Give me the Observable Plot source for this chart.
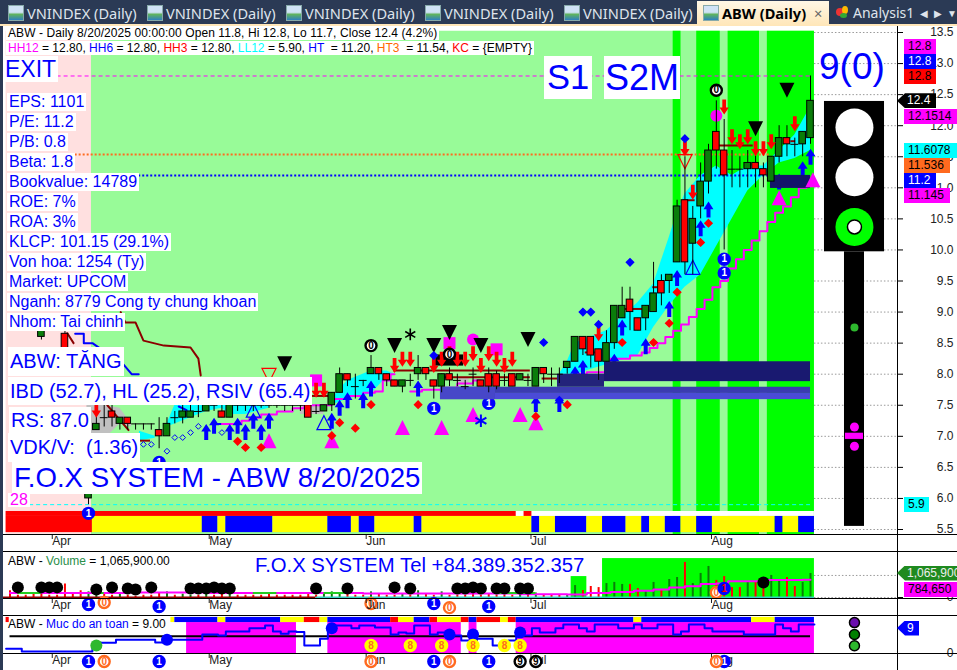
<!DOCTYPE html>
<html><head><meta charset="utf-8">
<script src="https://cdn.jsdelivr.net/npm/d3@7"></script>
<script src="https://cdn.jsdelivr.net/npm/@observablehq/plot@0.6"></script>
<style>
html,body{margin:0;padding:0;background:#fff;overflow:hidden}
#page{position:relative;width:957px;height:670px;overflow:hidden;font-family:"Liberation Sans",Arial,sans-serif;background:#fff}
#page svg{position:absolute;left:0}
.lb{position:absolute;white-space:pre;background:#fff;color:#00f;line-height:1}
.tag{position:absolute;white-space:pre;font-size:12px;line-height:15px;height:15px;padding-left:4px;box-sizing:border-box;overflow:hidden}
.tab{position:absolute;top:4px;color:#dfe4ec;font:14.6px "Noto Sans",sans-serif;white-space:pre;line-height:18px}
.ic{position:absolute;top:5px;width:14px;height:14px;background:linear-gradient(180deg,#cfe2f5 0 45%,#5fb35f 60%,#2f7fbf);border:1px solid #8aa}
.ln{position:absolute;background:#000}
</style></head><body><div id="page"></div>
<script>
// ---------- bar data (k = trading-bar number, 0 = first bar right of the pink zone)
const opens=[6,7.1,7.3,7.4,7.2,7.3,7.2,7.2,7.2,7.1,7,7.3,7.3,7.3,7.4,7.4,7.5,7.4,7.3,7.5,7.5,7.5,7.5,7.5,7.5,7.5,7.5,7.5,7.5,7.4,7.4,7.5,7.7,8,7.8,7.9,8,8.1,8,7.9,7.8,7.9,8,8.1,7.9,7.8,8,7.9,7.8,8,7.9,8,8,7.9,8,7.9,7.9,7.8,8.1,8,8,8.1,8.2,8.6,8.6,8.4,8.2,8.5,8.9,9.2,8.9,8.9,9,9.5,9.5,9.8,10.8,10.1,10.7,11.1,11.9,11.6,11.3,11.3,11.3,11.4,11.3,11.1,11.5,11.8,11.7,11.7,11.8];
const highs=[6.1,7.5,7.5,7.5,7.3,7.3,7.2,7.2,7.2,7.3,7.3,7.4,7.5,7.5,7.55,7.6,7.6,7.55,7.55,7.6,7.6,7.6,7.6,7.6,7.55,7.6,7.6,7.6,7.6,7.5,7.5,7.7,8.1,8,8,7.9,8.3,8.1,8,7.9,7.9,8,8.3,8.1,7.9,8,8.1,8,7.9,8.1,7.9,8.1,8.05,8,8,8,8,8.1,8.1,8.1,8.1,8.2,8.6,8.6,8.6,8.4,8.7,9.1,9.4,9.4,8.9,9.1,9.8,9.6,9.6,10.8,11.5,10.7,11.4,11.7,12.4,12.1,11.6,11.5,11.6,11.6,11.4,11.5,12,12,11.8,11.9,12.8];
const lows=[5.9,7.1,7.15,7.15,7.1,7.1,7.1,7.1,7.1,6.8,7,7.2,7.2,7.3,7.3,7.4,7.4,7.3,7.3,7.4,7.4,7.4,7.45,7.45,7.45,7.4,7.4,7.4,7.3,7.35,7.4,7.4,7.7,7.8,7.6,7.8,8,7.9,7.8,7.8,7.7,7.8,7.9,7.9,7.6,7.7,7.8,7.8,7.75,7.8,7.8,7.7,7.75,7.8,7.8,7.9,7.8,7.8,7.85,7.8,7.85,8,8.2,8.3,8.1,7.9,8.2,8.4,8.9,8.7,8.7,8.7,9,9.1,9.3,9.8,9.6,9.6,10.5,10.9,11.3,10,11,11,11,11,11,11.1,11.4,11.5,11.5,11.5,11.7];
const closes=[6.1,7.2,7.3,7.3,7.3,7.2,7.2,7.2,7.2,7,7.2,7.3,7.4,7.4,7.4,7.5,7.5,7.3,7.5,7.5,7.5,7.5,7.5,7.5,7.5,7.5,7.5,7.5,7.3,7.4,7.5,7.7,8,7.9,7.8,7.9,8.1,8,7.9,7.8,7.9,7.9,8.1,8,7.8,8,7.9,7.9,7.8,8,7.8,7.8,7.8,7.9,7.8,8,7.9,8.1,8,8,8,8.2,8.6,8.4,8.3,8.2,8.5,9.1,9.1,9,8.7,9.1,9.3,9.3,9.6,10.7,9.8,10.5,11.1,11.6,11.6,11.2,11.3,11.3,11.4,11.3,11.2,11.5,11.8,11.7,11.7,11.9,12.4];
// two bars readable inside the pink zone
const earlyK=[-6,-3], earlyO=[8.6,8.65], earlyH=[8.7,8.8], earlyL=[8.55,8.35], earlyC=[8.7,8.4];

const volumes=[.25,.2,.15,.1,.2,.1,.05,.1,.1,.2,.25,.1,.15,.1,.1,.2,.1,.15,.2,.1,.1,.1,.1,.15,.1,.1,.1,.1,.2,.1,.15,.25,.2,.15,.1,.1,.25,.15,.1,.1,.15,.1,.3,.15,.1,.25,.1,.1,.1,.15,.1,.15,.1,.1,.1,.15,.15,.2,.1,.1,.1,.1,.53,.31,.49,.44,.62,.67,.58,.58,.4,.31,.67,.31,.8,.89,1.56,.62,1.07,1.38,.76,.93,.44,.44,.67,.67,.4,.98,.76,.89,.49,.67,1.0659];
const earlyVolK=[-10,-9,-8,-7,-6,-5,-4,-3,-2,-1], earlyVol=[.3,.1,.1,.15,.2,.1,.1,.6,.2,.3];
const volMaK=[-10,0,10,20,30,40,50,60,62,65,68,71,73,75,77,79,81,82,84,87,90,92];
const volMa=[.2,.2,.22,.2,.2,.18,.18,.15,.13,.2,.25,.3,.36,.44,.5,.6,.62,.72,.72,.78,.78,.7847];
const volGreenK1=[-9,0.5,21,30,52], volGreenK2=[-6,2,24,33,57], volGreenV=.2;
const volDotK=[-9,-6,-5,-4,1,3,5,6,8,13,14,15,16,17,18,29,33,39,41,47,48,49,50,52,53,55,56,86];
const volDotV=[.45,.45,.45,.45,.36,.45,.4,.36,.45,.4,.4,.4,.45,.4,.4,.4,.4,.45,.4,.4,.4,.45,.4,.4,.4,.4,.4,.67];

const months=["Apr","May","Jun","Jul","Aug"], monthK=[-5,15,35,56,79];
const priceTicks=[5.5,6,6.5,7,7.5,8,8.5,9,9.5,10,10.5,11,11.5,12,12.5,13,13.5];

const bandK1=[74.5,77.5,81.5,86.5], bandK2=[75.5,80.5,85.5,92.5];

const stripK=[-10.5,.5,14.5,16.5,17.5,23.5,30.5,33.5,34.5,36.5,41.5,42.5,56.5,57.5,59.5,63.5,65.5,68.5,70.5,71.5,73.5,75.5,77.5,79.5,87.5,88.5,90.5,92.5];
const stripC=["red","y","b","y","b","y","b","y","b","y","b","y","b","y","b","y","b","y","b","y","b","y","b","y","b","y","b"];
const topStripK1=[-10.5,55.5], topStripK2=[54.5,56.5];

const cloudK=[6.5,8.5,null,10,11,13,15,17,18,20,22,23,null,31,33,36,38,39,null,60,61,62,66,70,72,74,75,76,78,80,82,84,86,88,90,92];
const cloudHi=[7.08,7,null,7.2,7.5,7.5,7.5,7.5,7.5,7.5,7.5,7.5,null,7.6,7.9,8.05,8.05,8,null,8,8.2,8.5,8.7,9.15,9.45,10.2,10.6,10.9,11.2,11.35,11.2,11.35,11.35,11.6,11.85,12.3];
const cloudLo=[6.93,6.97,null,7.15,7.2,7.3,7.4,7.45,7.35,7.35,7.42,7.45,null,7.5,7.6,7.68,7.95,8,null,8,8,8,8.15,8.3,8.75,9.1,9.25,9.4,9.6,10.05,10.5,10.95,11.2,11.4,11.47,11.6];
const greyK=[-.2,2,4,5.5,null,27,30,null,47,48.5];
const greyHi=[7.5,7.5,7.45,7.2,null,7.5,7.5,null,7.95,7.95];
const greyLo=[6.9,6.95,7.2,7.15,null,7.35,7.35,null,7.85,7.85];

const stopK=[17,19,20,21,23,25,27,28,30,32,34,36,37,38,39,null,41,44,46,48,50,null,62,65,68,70,71,72,73,74,75,76,77,78,79,80,81,82,83,84,85,86,87,88,89,90,91,92];
const stopP=[7.2,7.2,7.25,7.3,7.35,7.4,7.45,7.5,7.5,7.6,7.65,7.7,7.72,7.9,8,null,7.72,7.75,7.78,7.85,7.9,null,8,8.03,8.25,8.3,8.35,8.42,8.5,8.6,8.7,8.8,8.92,9.05,9.2,9.4,9.5,9.7,9.85,10,10.15,10.3,10.45,10.6,10.7,10.85,11,11.05];
const maroonK=[4.1,4.7,6,7,9.6,13,14,14.3,null,-2.7,-1.9,null,2.4,5.1];
const maroonP=[9,8.83,8.83,8.54,8.46,8.43,8.25,7.98,null,8.66,8.5,null,7.5,7.1];
const resK1=[38.9,45.2,28.3,57.8,63.3,68.2,71.9,80.3,75.8,89.5,6.4];
const resK2=[56.3,56.3,30.8,59.9,64.9,70.7,73.1,84.7,77.3,90.1,7.9];
const resP=[8.06,7.95,7.65,7.93,8.35,9.05,9.4,11.68,10.8,11.75,6.93];
const blueLineK=[-1.7,-.6,-.6,.5,4.5,5.5,6.4,null,11.5,12.5,null,16,17.5];
const blueLineP=[8.65,8.65,8.5,8.5,8.15,8,8,null,7.48,7.42,null,7.2,7.2];

const zoneK1=[44.85,51.86,44.85,51.86,59.76,65.75,86.9], zoneK2=[51.86,92,51.86,92,65.75,92,92];
const zoneP1=[7.59,7.69,7.59,7.59,7.79,7.88,10.99], zoneP2=[7.79,7.79,7.79,7.69,8,8.2,11.2];
const zoneC=["#4747c8","#3b3bb0","#4747c8","#4b4bd6","#23237a","#191970","#14146a"];

const upK=[15,16,18,19,20,21,22,23,31,32,33,35,36,42,57,60,62,63,67,68,71,74,75,78,79,88,91,92];
const upP=[7.07,7.17,7.07,7.17,7.07,7.25,7.07,7.25,7.25,7.46,7.58,7.58,7.77,7.77,7.52,7.52,8,8.1,8.2,8.75,8.45,9.05,9.55,10.35,10.65,11.1,11.3,11.5];
const downK=[1,29,30,39,40,41,44,45,46,47,48,49,50,51,52,53,54,65,76,77,81,82,83,84,85,86,87,90];
const downP=[7.42,7.74,7.74,8.14,8.24,8.24,8.14,8.24,8.33,8.24,8.24,8.33,8.14,8.33,8.24,8.14,8.24,8.65,11.63,10.93,12.3,11.82,11.74,11.82,11.63,11.63,11.74,12.03];
const redDotK=[19,20,22,32,34,31,36,42,57,61,68,72,74,75,78,79];
const redDotP=[6.92,6.82,6.82,7.22,7.13,7.01,7.51,7.51,7.32,7.51,8.51,8.51,8.82,9.32,10.12,10.43];
const blueDotK=[58,44,69,63,64,65,76,60];
const blueDotP=[8.51,8.3,9.8,9,9,8.8,11.79,7.58];
const ringK=[7,8,10,11,12,13,14,17], ringP=[6.87,6.87,6.76,6.98,6.98,7.06,7.16,7.06];
const blackDownK=[25,39,44,46,50,56,85,89], blackDownP=[8.17,8.46,8.46,8.67,8.46,8.56,11.95,12.57];
const pinkUpK=[23,31,40,45,49,55,57,88,92.3], pinkUpP=[6.93,6.93,7.14,7.14,7.35,7.35,7.22,10.84,11.13];
const hollowUpK=[21,30,77], hollowUpP=[7.42,7.22,9.72];
const hollowDownK=[76,23], hollowDownP=[11.42,7.98];
const pinkSquareK=[46,52,29], pinkSquareP=[8.5,8.4,7.9];
const pinkCircleK=[49,80], pinkCircleP=[8.56,12.16];
const oneK=[9,44,51,0,81,81], oneP=[6.58,7.45,7.53,5.76,9.85,9.63];
const zeroK=[36,80,46], zeroP=[8.46,12.57,8.32];

const safety=[1.5,.6,2.5,3.3,4.3,3.4,4.3,5.9,5.6,6.8,7.8,8.7,6.8,6.1,6.8,6.7,2.5,4.6,7.8,8.7,7.8,8.7,8.1,5.9,6.5,6.2,8.7,5.9,6.5,5.6,4,4.6,2.5,4,5.6,7.8,6.5,7.8,9,7.8,6.8,9,7.8,9,7.8,9,5.9,6.8,9,7.8,6.8,5.9,9,7.8,6.8,9,9];
const safetyK=[-10.5,-8.5,.5,1.5,3.5,8.5,9.5,14.5,16.5,17.5,20.5,22.5,23.5,24.5,25.5,26.5,27.5,29.5,30.5,31.5,33.5,34.5,36.5,38.5,39.5,40.5,41.5,43.5,44.5,45.5,47.5,49.5,51.5,53.5,54.5,56.5,57.5,59.5,60.5,62.5,63.5,64.5,67.5,69.5,70.5,72.5,74.5,75.5,76.5,78.5,79.5,83.5,87.5,88.5,89.5,90.5,92.5];
const safeBase=5.37;
const safeZoneK1=[12.5,30.5,48.5,54.5], safeZoneK2=[26.5,47.5,49.5,92.5];
const safeStripK=[10.5,11,16.5,17.5,24.5,27.5,29.5,30.5,38.5,39.5,41.5,43.5,44.5,47.5,48.5,49.5,52.5,53.5,54.5,69.5,70.5,84.5,87.5,92.5];
const safeStripC=["y","b","y","b","y","red","y","b","red","y","b","red","y","red","b","red","y","red","b","y","b","y","b"];
const safeBlueDotK=[10,31,46,49,55], safeBlueDotV=[4.3,7.8,5.9,5.9,6.5];
const eightK=[36,41,45,49,53,55], eightV=2.5;
const rowOneK=[0,9,44,51,81], rowZeroK=[2,36,46,80], rowNineK=[55,57];

// ---------- palette
const C={red:"#ff0000",y:"#ffff00",b:"#0000ff",blue:"#0000ff",pale:"#98fb98",lime:"#00ff00",pink:"#ffe0e0",mag:"#ff00ff",up:"#0a7d0a",orange:"#ff6a1f",cyan:"#00ffff",maroon:"#8b0000"};
const X={domain:[-11.213,110.73],range:[0,957]};
const FONT='"Liberation Sans",Arial,sans-serif';
const zip=(a,b)=>a.map((k,i)=>({k,v:b[i]}));

// ---------- glyphs drawn through Plot's symbol channel
const unit=s=>Math.sqrt(s/Math.PI);
const arrowUp={draw(c,s){const r=unit(s);c.moveTo(0,-r);c.lineTo(r*.62,-r*.05);c.lineTo(r*.25,-r*.05);c.lineTo(r*.25,r);c.lineTo(-r*.25,r);c.lineTo(-r*.25,-r*.05);c.lineTo(-r*.62,-r*.05);c.closePath();}};
const arrowDown={draw(c,s){const r=unit(s);c.moveTo(0,r);c.lineTo(r*.62,r*.05);c.lineTo(r*.25,r*.05);c.lineTo(r*.25,-r);c.lineTo(-r*.25,-r);c.lineTo(-r*.25,r*.05);c.lineTo(-r*.62,r*.05);c.closePath();}};
const triUp={draw(c,s){const r=unit(s);c.moveTo(0,-r);c.lineTo(r,r);c.lineTo(-r,r);c.closePath();}};
const triDown={draw(c,s){const r=unit(s);c.moveTo(0,r);c.lineTo(r,-r);c.lineTo(-r,-r);c.closePath();}};
const square={draw(c,s){const r=unit(s);c.rect(-r,-r,2*r,2*r);}};

const glyphs=(k,p,sym,o)=>Plot.dot(zip(k,p),{x:"k",y:"v",symbol:sym,...o});
const badge=(k,p,label,fill,stroke,ink,r=5.5)=>[
  Plot.dot(zip(k,p),{x:"k",y:"v",r,fill,stroke,strokeWidth:2.4}),
  Plot.text(zip(k,p),{x:"k",y:"v",text:()=>label,fill:ink,fontSize:10,fontWeight:"bold"})
];
const monthAxis=()=>Plot.axisX({anchor:"bottom",ticks:monthK,tickFormat:k=>months[monthK.indexOf(k)],tickSize:5,tickPadding:-3,textAnchor:"start",dx:3,fontSize:12,fill:"#222",color:"#222",label:null});

const bars=opens.map((o,i)=>({k:i,o,h:highs[i],l:lows[i],c:closes[i]})).concat(earlyK.map((k,i)=>({k,o:earlyO[i],h:earlyH[i],l:earlyL[i],c:earlyC[i]})));
const bodies=bars.filter(d=>d.o!==d.c), crosses=bars.filter(d=>d.o===d.c);
const segs=(k1,k2,c)=>k1.map((a,i)=>({a,b:k2[i],c:c?c[i]:null}));
const strips=stripC.map((c,i)=>({a:stripK[i],b:stripK[i+1],c:C[c]}));
const safeStrips=safeStripC.map((c,i)=>({a:safeStripK[i],b:safeStripK[i+1],c:C[c]}));

// ---------- main price panel
const kLeft=-10.5,kEnd=92.5,pTop=13.52,pBot=5.42,kAxis=103.09;
const lightK1=93.78,lightK2=101.43,poleK1=96.33,poleK2=98.88,lightK=97.6;
const main=Plot.plot({
  width:957,height:552,marginLeft:0,marginTop:0,marginRight:60,marginBottom:18,
  x:X,y:{domain:[5.5,13.5],range:[529,32]},
  style:{background:"transparent",fontFamily:FONT,fontSize:"12px",top:0,color:"#222"},
  marks:[
    Plot.ruleY(priceTicks,{x1:kEnd,x2:kAxis,stroke:"#999",strokeDasharray:"1.5 2"}),
    Plot.rect([0],{x1:kLeft,x2:.38,y1:pBot,y2:pTop,fill:C.pink}),
    Plot.rect([0],{x1:.38,x2:kEnd,y1:pBot,y2:pTop,fill:C.pale}),
    Plot.rect(segs(bandK1,bandK2),{x1:"a",x2:"b",y1:pBot,y2:pTop,fill:C.lime}),
    Plot.rect([0],{x1:kLeft,x2:kEnd,y1:5.71,y2:5.79,fill:"#fff"}),
    Plot.rect(segs(topStripK1,topStripK2),{x1:"a",x2:"b",y1:5.71,y2:5.79,fill:C.red}),
    Plot.rect(strips,{x1:"a",x2:"b",y1:5.45,y2:5.71,fill:"c"}),
    Plot.areaY(cloudK.map((k,i)=>({k,t:cloudHi[i],b:cloudLo[i]})),{x:"k",y1:"b",y2:"t",fill:C.cyan}),
    Plot.areaY(greyK.map((k,i)=>({k,t:greyHi[i],b:greyLo[i]})),{x:"k",y1:"b",y2:"t",fill:"#c0c0c0"}),
    Plot.ruleY([12.8],{x1:-4,x2:92,stroke:C.mag,strokeDasharray:"4 3"}),
    Plot.ruleY([11.536],{x1:-1.7,x2:87,stroke:C.orange,strokeWidth:2,strokeDasharray:"2 2"}),
    Plot.ruleY([11.2],{x1:6.4,x2:87,stroke:C.blue,strokeWidth:2,strokeDasharray:"2 2"}),
    Plot.ruleY([5.9],{x1:-7.5,x2:92,stroke:C.cyan,strokeDasharray:"4 3"}),
    Plot.line(zip(maroonK,maroonP),{x:"k",y:"v",stroke:C.maroon,strokeWidth:2}),
    Plot.line(zip(blueLineK,blueLineP),{x:"k",y:"v",stroke:C.blue,strokeWidth:2}),
    Plot.line(zip(stopK,stopP),{x:"k",y:"v",stroke:C.mag,strokeWidth:2,curve:"step"}),
    Plot.ruleY(resP.map((v,i)=>({v,a:resK1[i],b:resK2[i]})),{y:"v",x1:"a",x2:"b",stroke:C.maroon,strokeWidth:2}),
    glyphs(hollowUpK,hollowUpP,triUp,{r:7,fill:"none",stroke:C.blue,strokeWidth:1.2}),
    glyphs(hollowDownK,hollowDownP,triDown,{r:7,fill:"none",stroke:C.red,strokeWidth:1.2}),
    glyphs(upK,upP,arrowUp,{r:8,fill:C.blue}),
    ...badge(oneK,oneP,"1",C.blue,C.blue,"#fff"),
    Plot.rect(zoneP1.map((p,i)=>({a:zoneK1[i],b:zoneK2[i],p,q:zoneP2[i],c:zoneC[i]})),{x1:"a",x2:"b",y1:"p",y2:"q",fill:"c"}),
    Plot.rect([0],{x1:44.2,x2:47.8,y1:8.13,y2:8.31,fill:"#000"}),
    glyphs(pinkUpK,pinkUpP,triUp,{r:7.5,fill:C.mag}),
    glyphs(pinkSquareK,pinkSquareP,square,{r:6,fill:C.mag}),
    glyphs(pinkCircleK,pinkCircleP,"circle",{r:6,fill:C.mag}),
    Plot.ruleX(bars,{x:"k",y1:"l",y2:"h",stroke:"#000"}),
    Plot.rect(bodies,{x1:d=>d.k-.42,x2:d=>d.k+.42,y1:"o",y2:"c",fill:d=>d.c>d.o?C.up:C.red,stroke:"#000"}),
    Plot.ruleY(crosses,{y:"c",x1:d=>d.k-.5,x2:d=>d.k+.5,stroke:"#000"}),
    glyphs(downK,downP,arrowDown,{r:7.5,fill:C.red}),
    glyphs(blackDownK,blackDownP,triDown,{r:7.5,fill:"#000"}),
    glyphs(redDotK,redDotP,"diamond2",{r:3.2,fill:C.red,stroke:C.red}),
    glyphs(blueDotK,blueDotP,"diamond2",{r:3.2,fill:C.blue,stroke:C.blue}),
    glyphs(ringK,ringP,"diamond2",{r:2.6,fill:"none",stroke:C.blue,strokeWidth:1}),
    Plot.dot([{k:41,v:8.64}],{x:"k",y:"v",symbol:"asterisk",r:5.5,stroke:"#000",strokeWidth:1.6}),
    Plot.dot([{k:50,v:7.25}],{x:"k",y:"v",symbol:"asterisk",r:6,stroke:C.blue,strokeWidth:2}),
    ...badge(zeroK,zeroP,"0","#fff","#000","#000"),
    // traffic light
    Plot.rect([0],{x1:lightK1,x2:lightK2,y1:9.97,y2:12.39,fill:"#000"}),
    Plot.rect([0],{x1:poleK1,x2:poleK2,y1:5.55,y2:9.97,fill:"#000"}),
    Plot.dot([11.97,11.17],{x:()=>lightK,y:d=>d,r:19,fill:"#fff"}),
    Plot.dot([10.37],{x:()=>lightK,y:d=>d,r:19,fill:C.lime}),
    Plot.dot([10.37],{x:()=>lightK,y:d=>d,r:7,fill:"#fff",stroke:"#000"}),
    Plot.dot([8.75],{x:()=>lightK,y:d=>d,r:4,fill:"#2eb82e"}),
    Plot.dot([7.15,6.84],{x:()=>lightK,y:d=>d,r:4.5,fill:C.mag}),
    Plot.rect([0],{x1:96.45,x2:98.75,y1:6.95,y2:7.05,fill:C.mag}),
    monthAxis(),
    Plot.axisY({anchor:"right",ticks:priceTicks,tickFormat:d=>d.toFixed(1),tickSize:5,tickPadding:51,textAnchor:"end",fontSize:12,fill:"#222",color:"#000",label:null})
  ]
});
main.style.top="0px";

// ---------- volume panel
const volBars=volumes.map((v,i)=>({k:i,v,up:closes[i]>opens[i]})).concat(earlyVolK.map((k,i)=>({k,v:earlyVol[i],up:false})));
const vol=Plot.plot({
  width:957,height:64,marginLeft:0,marginTop:0,marginRight:60,marginBottom:17,
  x:X,y:{domain:[0,1.5],range:[46,12.25]},
  style:{background:"transparent",fontFamily:FONT,fontSize:"12px",color:"#222"},
  marks:[
    Plot.rect([0],{x1:65.5,x2:kEnd,y1:0,y2:1.73,fill:C.lime}),
    Plot.rect([0],{x1:61.5,x2:63.5,y1:0,y2:.93,fill:C.lime}),
    Plot.ruleY([.98,0],{x1:kEnd,x2:kAxis,stroke:"#999",strokeDasharray:"1.5 2"}),
    Plot.ruleX(volBars,{x:"k",y1:0,y2:"v",stroke:d=>d.up?C.up:C.red,strokeWidth:2}),
    Plot.line(zip(volMaK,volMa),{x:"k",y:"v",stroke:C.mag,strokeWidth:2,curve:"step"}),
    Plot.ruleY(segs(volGreenK1,volGreenK2),{y:()=>volGreenV,x1:"a",x2:"b",stroke:"#22cc22",strokeWidth:2}),
    Plot.ruleY([0],{x1:-11,x2:29,stroke:C.maroon,strokeWidth:2}),
    Plot.ruleY([0],{x1:29,x2:kEnd,stroke:"#35d0c0",strokeWidth:2}),
    Plot.dot(zip(volDotK,volDotV),{x:"k",y:"v",r:6,fill:"#000"}),
    ...badge(rowOneK.slice(0,4),[-.31,-.4,-.27,-.4],"1",C.blue,C.blue,"#fff"),
    ...badge([2,36,46,80],[-.22,-.27,-.45,.22],"0","#fff",C.orange,C.orange),
    ...badge([81],[.4],"1",C.blue,C.blue,C.red),
    monthAxis(),
    Plot.axisY({anchor:"right",ticks:[0],tickFormat:d=>d,tickSize:5,tickPadding:51,textAnchor:"end",fontSize:12,fill:"#222",color:"#000",label:null})
  ]
});
vol.style.top="551px";

// ---------- safety panel
const safe=Plot.plot({
  width:957,height:55,marginLeft:0,marginTop:0,marginRight:60,marginBottom:17,
  x:X,y:{domain:[0,9],range:[38,9]},
  style:{background:"transparent",fontFamily:FONT,fontSize:"12px",color:"#222"},
  marks:[
    Plot.rect(segs(safeZoneK1,safeZoneK2),{x1:"a",x2:"b",y1:0,y2:9.6,fill:C.mag}),
    Plot.rect(safeStrips,{x1:"a",x2:"b",y1:9.6,y2:11.2,fill:"c"}),
    Plot.rect([0],{x1:-10.5,x2:-10.1,y1:9.6,y2:11.2,fill:C.red}),
    Plot.ruleY([0],{x1:kEnd,x2:kAxis,stroke:"#999",strokeDasharray:"1.5 2"}),
    Plot.ruleY([safeBase],{x1:-10,x2:92,stroke:"#000",strokeWidth:2}),
    Plot.line(zip(safetyK,safety),{x:"k",y:"v",stroke:C.blue,strokeWidth:2,curve:"step-after"}),
    Plot.dot([{k:1,v:2.5}],{x:"k",y:"v",r:6,fill:"#2eb82e"}),
    Plot.dot(zip(safeBlueDotK,safeBlueDotV),{x:"k",y:"v",r:6,fill:C.blue}),
    ...badge(eightK,eightK.map(()=>eightV),"8",C.y,C.y,C.orange),
    monthAxis(),
    ...badge(rowOneK,rowOneK.map(()=>-2.5),"1",C.blue,C.blue,"#fff"),
    ...badge(rowZeroK,rowZeroK.map(()=>-2.5),"0","#fff",C.orange,C.orange),
    ...badge(rowNineK,rowNineK.map(()=>-2.5),"9","#fff","#000","#000"),
    Plot.dot([2.4,5.9,9.6].map(v=>({k:97.6,v})),{x:"k",y:"v",r:5,fill:(d,i)=>["#2eb82e","#008000","#6a0dad"][i],stroke:"#000"}),
    Plot.axisY({anchor:"right",ticks:[0],tickFormat:d=>d,tickSize:5,tickPadding:51,textAnchor:"end",fontSize:12,fill:"#222",color:"#000",label:null})
  ]
});
safe.style.top="615px";

// ---------- page furniture and text labels
const page=document.getElementById("page");
page.append(main,vol,safe);
const div=(cls,css,html)=>{const d=document.createElement("div");d.className=cls;d.style.cssText=css;if(html!=null)d.innerHTML=html;page.append(d);return d;};
const label=(t,x,cy,size,h,w,extra="")=>div("lb",`left:${x}px;top:${cy-h/2}px;height:${h}px;${w?`width:${w}px;`:""}font-size:${size}px;line-height:${h}px;padding:0 2px;${extra}`,t);
// frame
div("ln","left:0;top:0;width:3px;height:670px;background:#2b3a55");
[534,551,598,615,653].forEach(y=>div("ln",`left:3px;top:${y}px;width:954px;height:1px`));
div("ln","left:897px;top:26px;width:1px;height:644px");
// tab bar
div("ln","left:0;top:0;width:957px;height:24px;background:#2b3a55");
div("ln","left:0;top:24px;width:957px;height:2px;background:#ffe6b8");
["VNINDEX (Daily)"].forEach(t=>[8,147,286,425,564].forEach(x=>{div("ic",`left:${x}px`);div("tab",`left:${x+19}px`,t);}));
div("ln","left:697px;top:1px;width:132px;height:25px;background:linear-gradient(#fff7e6,#ffe6b8)");
div("ic","left:703px");
div("tab","left:722px;color:#000;font-weight:bold;font-size:14.6px","ABW (Daily)");
div("tab","left:814px;color:#666","\u00d7");
div("ln","left:836px;top:8px;width:8px;height:8px;background:#e33;border-radius:50%");
div("ln","left:842px;top:6px;width:6px;height:8px;background:#fb0;border-radius:50%");
div("ln","left:840px;top:13px;width:7px;height:5px;background:#3a3;border-radius:50%");
div("tab","left:853px;font-size:14px","Analysis1");
div("tab","left:920px;font-size:10px","\u25c0");
div("tab","left:934px;font-size:10px","\u25b6");
div("tab","left:947px;font-size:10px","\u25bc");
// headers
label("ABW - Daily 8/20/2025 00:00:00 Open 11.8, Hi 12.8, Lo 11.7, Close 12.4 (4.2%)",6,33,12,14,null,"color:#000;letter-spacing:.08px");
const sp=(c,t)=>`<span style="color:${c}">${t}</span>`;
label(sp("#f0f","HH12")+" = 12.80, "+sp("#00f","HH6")+" = 12.80, "+sp("#f00","HH3")+" = 12.80, "+sp("#0ff","LL12")+" = 5.90, "+sp("#00f","HT")+"  = 11.20, "+sp("#f60","HT3")+"  = 11.54, "+sp("#f00","KC")+" = {EMPTY}",6,48,12,14,null,"color:#000");
label("ABW - "+sp("#2a8f4a","Volume")+" = 1,065,900.00",6,561,12,14,null,"color:#000;background:transparent");
label("ABW - "+sp("#00f","Muc do an toan")+" = 9.00",6,624,12,14,null,"color:#000;background:transparent");
// fundamentals
label("EXIT",3,69,23,26);
["EPS: 1101","P/E: 11.2","P/B: 0.8","Beta: 1.8","Bookvalue: 14789","ROE: 7%","ROA: 3%","KLCP: 101.15 (29.1%)","Von hoa: 1254 (Ty)","Market: UPCOM","Nganh: 8779 Cong ty chung khoan","Nhom: Tai chinh"].forEach((t,i)=>label(t,7,102+20*i,16,18));
label("ABW: TĂNG",8,361,20,29);
label("IBD (52.7), HL (25.2), RSIV (65.4)",8,391,20,28);
label("RS: 87.0",9,420,20,26);
label("VDK/V:  (1.36)",8,447,20,29);
label("F.O.X SYSTEM - ABW 8/20/2025",12,478,27.6,32);
label("28",8,500,16,14,null,"color:#f0f");
label("S1",544,77,34.5,43,null,"padding:0 3px");
label("S2M",604,77,36,43,null,"padding:0 1px");
label("9(0)",817,67,37,44,null,"background:transparent");
label("F.O.X SYSTEM Tel +84.389.352.357",253,565,20.3,24,null,"background:transparent");
// value tags
const tag=(t,bg,fg,x,cy,w,extra="")=>div("tag",`left:${x}px;top:${cy-7.5}px;width:${w}px;background:${bg};color:${fg};${extra}`,t);
const arrowClip="clip-path:polygon(0 50%,8px 0,100% 0,100% 100%,8px 100%);padding-left:10px;";
tag("12.8","#f0f","#000",904,46.7,32);
tag("12.8","#00f","#fff",904,61.7,32);
tag("12.8","#f00","#000",904,76.7,32);
tag("12.4","#000","#fff",897,100.7,39,arrowClip);
tag("12.1514","#f0f","#000",904,116.7,53);
tag("11.6078","#0ff","#000",904,150.7,53);
tag("11.536","#ff6a1f","#000",904,165.7,46);
tag("11.2","#00f","#fff",904,180.7,32);
tag("11.145","#f0f","#000",904,195.7,46);
tag("5.9","#0ff","#000",904,504,25);
tag("1,065,900","#1f8a1f","#eee",897,573,60,arrowClip);
tag("784,650","#f0f","#000",904,589,53);
tag("9","#00f","#fff",897,628,22,arrowClip);
</script></body></html>
